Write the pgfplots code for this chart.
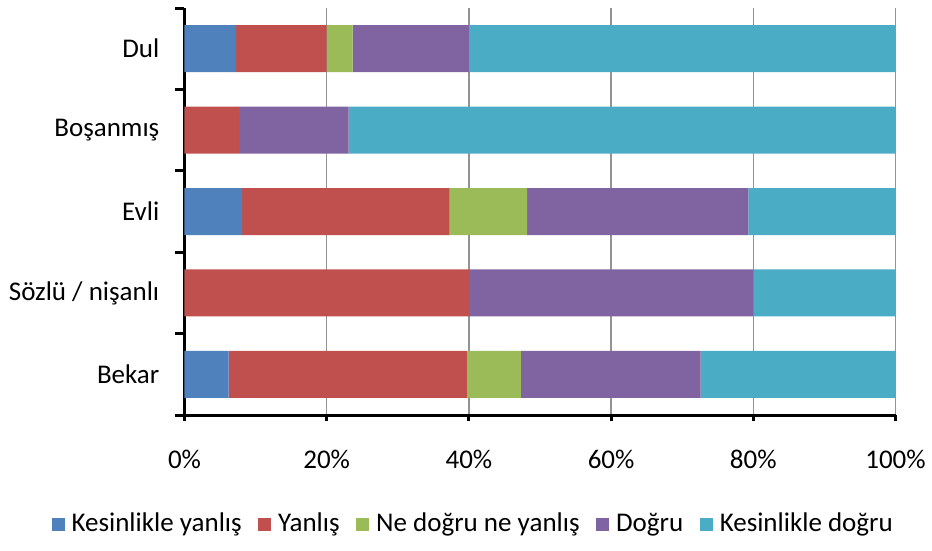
\documentclass[border=0pt]{standalone}
\usepackage{pgfplots}
\pgfplotsset{compat=1.18}
\usepackage{fontspec}
\setmainfont{Carlito}
\definecolor{c1}{HTML}{4F81BD}
\definecolor{c2}{HTML}{C0504D}
\definecolor{c3}{HTML}{9BBB59}
\definecolor{c4}{HTML}{8064A2}
\definecolor{c5}{HTML}{4BACC6}
\begin{document}
\fontsize{27}{32}\selectfont
\begin{tikzpicture}
\begin{axis}[
  at={(0pt,0pt)}, anchor=south west,
  scale only axis,
  width=711pt, height=407pt,
  xbar stacked,
  bar width=47pt,
  xmin=0, xmax=100,
  ymin=-0.5, ymax=4.5,
  axis lines*=left,
  axis line style={line width=3pt},
  tick align=outside,
  xtick={0,20,40,60,80,100},
  xticklabels={0\%,20\%,40\%,60\%,80\%,100\%},
  ytick={0,1,2,3,4},
  yticklabels={Bekar,Sözlü / nişanlı,Evli,Boşanmış,Dul},
  minor ytick={-0.5,0.5,1.5,2.5,3.5,4.5},
  major tick length=6pt,
  minor tick length=9pt,
  every tick/.style={black, line width=3pt},
  every major y tick/.append style={draw=none},
  xmajorgrids,
  grid style={gray!85, line width=1.5pt},
  tick label style={font=\fontsize{27}{32}\selectfont},
  xticklabel style={yshift=-20pt},
  yticklabel style={xshift=-10pt},
  legend style={at={(axis description cs:0.406,-0.268)}, anchor=center,
    draw=none, legend columns=-1, font=\fontsize{27}{32}\selectfont,
    /tikz/every odd column/.append style={column sep=5pt},
    /tikz/every even column/.append style={column sep=14.5pt},
    legend cell align=left},
  legend image code/.code={\fill[#1] (0pt,-6.5pt) rectangle (13pt,6.5pt);},
]
\addplot[fill=c1, draw=none] coordinates {(6.2,0) (0,1) (8.1,2) (0,3) (7.27,4)};
\addplot[fill=c2, draw=none] coordinates {(33.5,0) (40,1) (29.2,2) (7.69,3) (12.73,4)};
\addplot[fill=c3, draw=none] coordinates {(7.6,0) (0,1) (10.9,2) (0,3) (3.64,4)};
\addplot[fill=c4, draw=none] coordinates {(25.3,0) (40,1) (31.1,2) (15.38,3) (16.36,4)};
\addplot[fill=c5, draw=none] coordinates {(27.4,0) (20,1) (20.7,2) (76.93,3) (60,4)};
\legend{Kesinlikle yanlış,Yanlış,Ne doğru ne yanlış,Doğru,Kesinlikle doğru}
\draw[line width=3.5pt] (rel axis cs:0,0) -- (rel axis cs:0,1);
\end{axis}
\pgfresetboundingbox
\useasboundingbox (-184.5pt,-135pt) rectangle (747.5pt,415pt);
\end{tikzpicture}
\end{document}
